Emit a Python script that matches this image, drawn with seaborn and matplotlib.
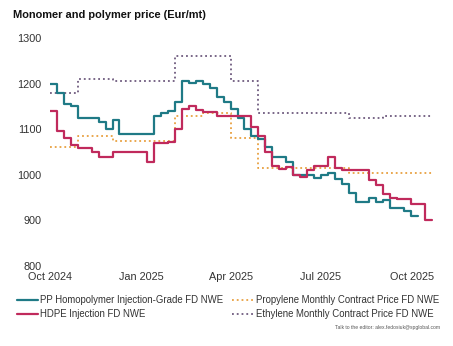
import matplotlib
matplotlib.use("Agg")
import matplotlib.pyplot as plt
import seaborn as sns
import pandas as pd

sns.set_theme(style="white")
plt.rcParams['font.family'] = ['Liberation Sans', 'DejaVu Sans']

# weekly assessments starting 1 Oct 2024
start_date = "2024-10-01"

pp_homo = [1200, 1180, 1155, 1150, 1125, 1125, 1125, 1115, 1100, 1120,
           1090, 1090, 1090, 1090, 1090, 1130, 1135, 1140, 1160, 1205,
           1202, 1205, 1200, 1190, 1170, 1160, 1145, 1125, 1100, 1085,
           1078, 1060, 1040, 1040, 1028, 1000, 1000, 1000, 993, 1000,
           1005, 990, 980, 960, 940, 940, 950, 940, 945, 928,
           928, 920, 910, 910]

hdpe = [1140, 1095, 1080, 1065, 1058, 1058, 1050, 1040, 1040, 1050,
        1050, 1050, 1050, 1050, 1028, 1070, 1070, 1072, 1100, 1145,
        1150, 1142, 1138, 1138, 1130, 1130, 1130, 1130, 1130, 1105,
        1085, 1050, 1020, 1012, 1018, 1000, 995, 1010, 1020, 1020,
        1038, 1015, 1011, 1011, 1011, 1011, 988, 978, 958, 950,
        948, 948, 937, 937, 900, 900]

propylene = [1060] * 4 + [1085] * 5 + [1075] * 9 + [1130] * 4 + [1135] * 4 + \
            [1080] * 4 + [1015] * 13 + [1005] * 13

ethylene = [1180] * 4 + [1210] * 5 + [1205] * 9 + [1260] * 8 + [1205] * 4 + \
           [1135] * 13 + [1125] * 5 + [1130] * 8

series_names = ["PP Homopolymer Injection-Grade FD NWE",
                "HDPE Injection FD NWE",
                "Propylene Monthly Contract Price FD NWE",
                "Ethylene Monthly Contract Price FD NWE"]
series_values = [pp_homo, hdpe, propylene, ethylene]
colors = ["#1f7a86", "#c02a5c", "#e8a040", "#6e5a7e"]
styles = ["-", "-", ":", ":"]
widths = [1.6, 1.6, 1.3, 1.3]

y_ticks = [800, 900, 1000, 1100, 1200, 1300]
x_ticks = ["2024-10-01", "2025-01-01", "2025-04-01", "2025-07-01", "2025-10-01"]
x_tick_labels = ["Oct 2024", "Jan 2025", "Apr 2025", "Jul 2025", "Oct 2025"]

frames = []
for name, vals in zip(series_names, series_values):
    d = pd.date_range(start_date, periods=len(vals), freq="7D")
    frames.append(pd.DataFrame({"date": d, "value": vals, "series": name}))

fig = plt.figure(figsize=(4.53, 3.46), dpi=100)
ax = fig.add_axes([50 / 453, 1 - 266 / 346, 383 / 453, 228 / 346])

order = [2, 3, 0, 1]
for i in order:
    sns.lineplot(data=frames[i], x="date", y="value", ax=ax, color=colors[i],
                 linestyle=styles[i], linewidth=widths[i], drawstyle="steps-post",
                 label=series_names[i], legend=False)

ax.set_xlim(pd.Timestamp("2024-10-01"), pd.Timestamp("2025-10-22"))
ax.set_ylim(800, 1300)
ax.set_yticks(y_ticks)
ax.set_yticklabels([str(v) for v in y_ticks], fontsize=7.8, color="#333333")
ax.set_xticks([pd.Timestamp(t) for t in x_ticks])
ax.set_xticklabels(x_tick_labels, fontsize=7.8, color="#333333")
ax.tick_params(axis="both", length=0)
ax.tick_params(axis="y", pad=6)
ax.tick_params(axis="x", pad=4)
ax.set_xlabel("")
ax.set_ylabel("")
for s in ax.spines.values():
    s.set_visible(False)
ax.grid(False)

fig.text(13 / 453, 1 - 15 / 346, "Monomer and polymer price (Eur/mt)",
         fontsize=7.9, fontweight="bold", color="#111111", va="center", ha="left")

handles, labels = ax.get_legend_handles_labels()
hmap = dict(zip(labels, handles))
leg_order = [series_names[0], series_names[1], series_names[2], series_names[3]]
fig.legend([hmap[l] for l in leg_order], leg_order, ncol=2,
           loc="upper left", bbox_to_anchor=(17 / 453, 1 - 295 / 346),
           frameon=False, fontsize=6.9, handlelength=2.2, handletextpad=0.25,
           columnspacing=0.9, labelspacing=0.45, borderaxespad=0, borderpad=0,
           labelcolor="#333333")

fig.text(440 / 453, 1 - 327 / 346, "Talk to the editor: alex.fedosiuk@spglobal.com",
         fontsize=3.6, color="#555555", ha="right", va="center")

fig.savefig("out.png", dpi=100)
